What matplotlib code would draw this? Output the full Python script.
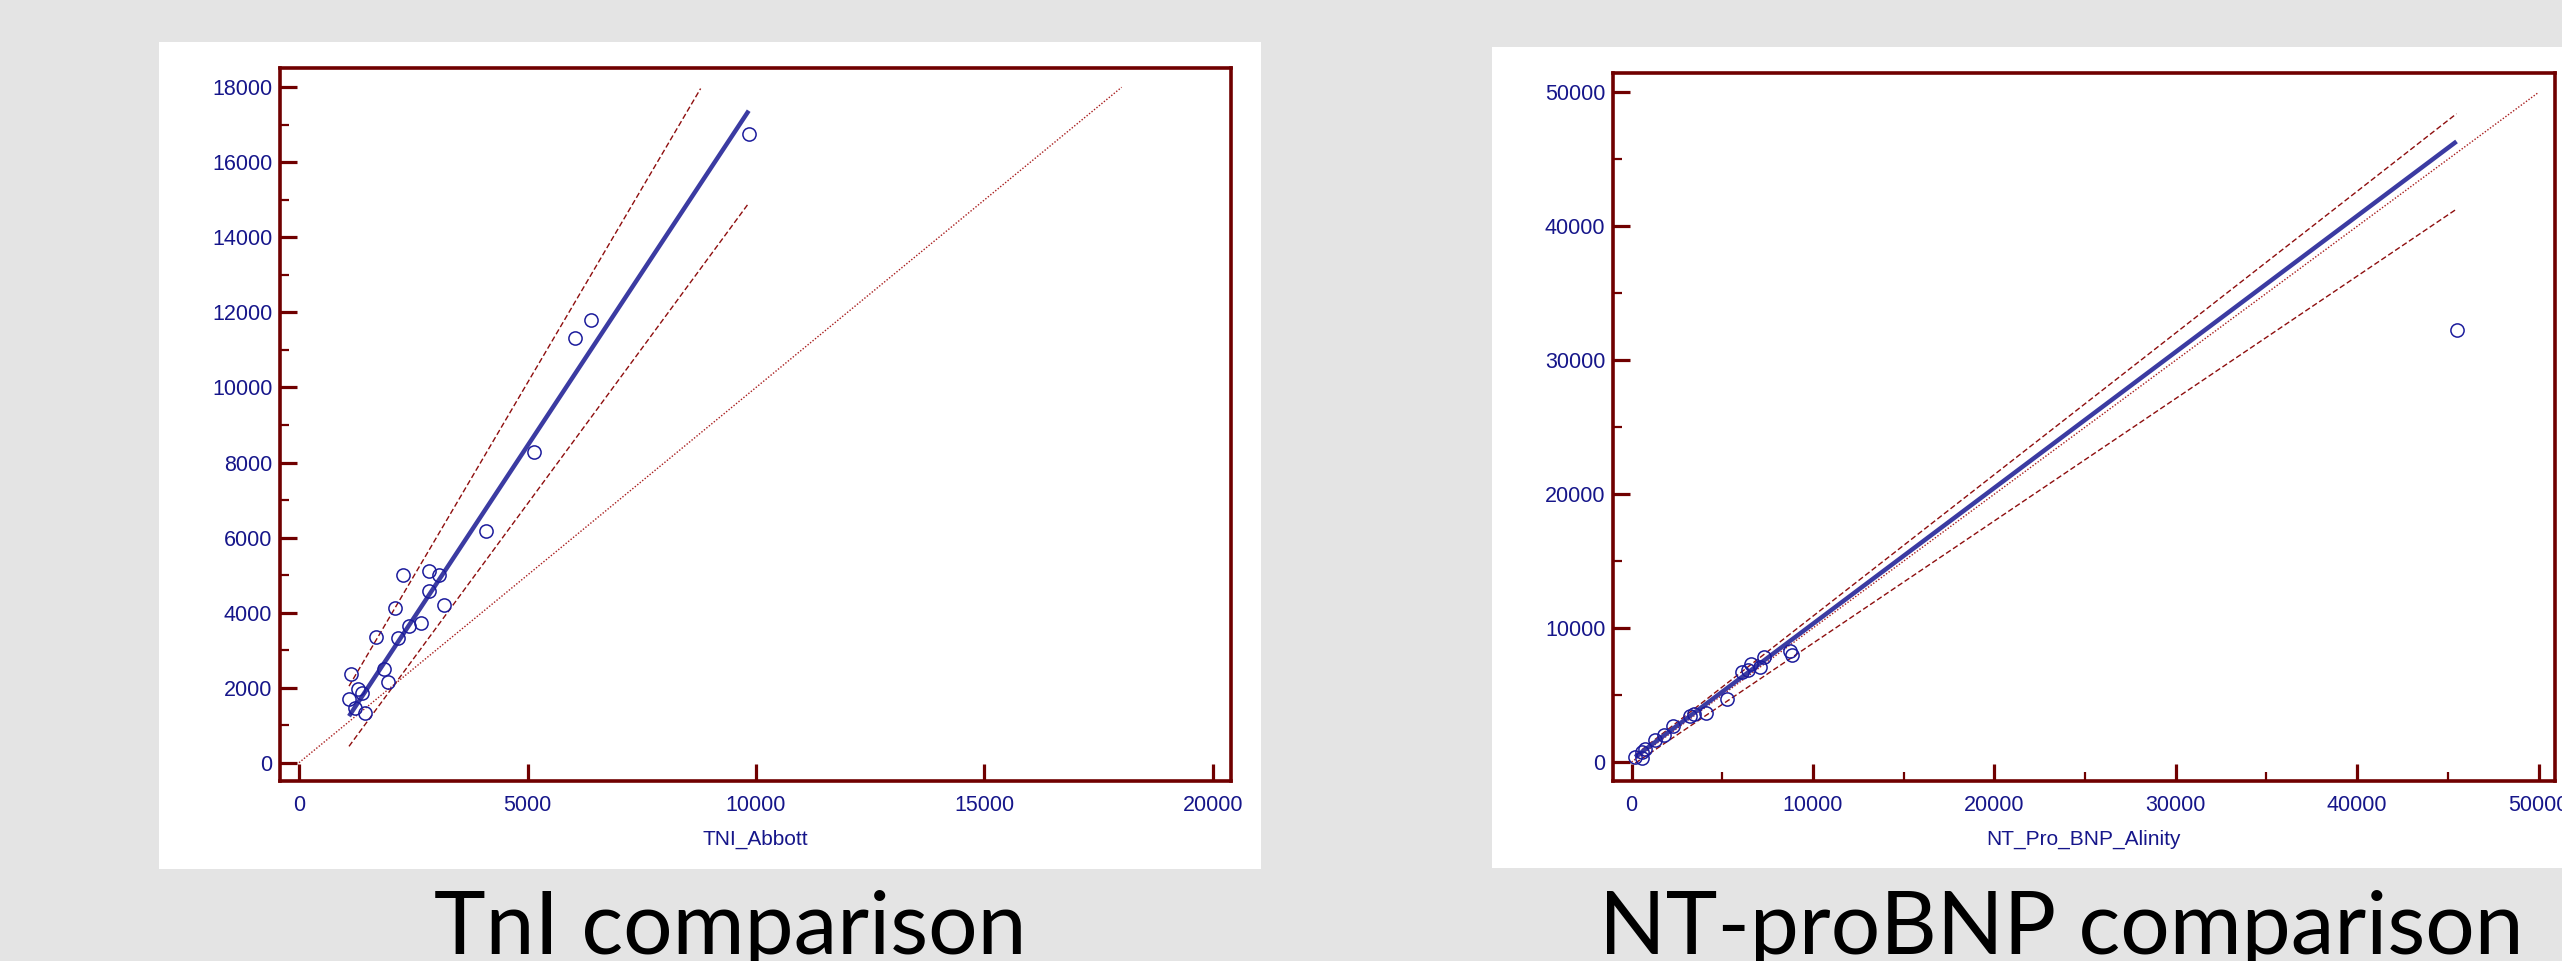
import matplotlib
matplotlib.use("Agg")
import matplotlib.pyplot as plt
from matplotlib.patches import Rectangle
from matplotlib.ticker import MultipleLocator
import numpy as np

# TnI panel: method comparison points (x = TNI_Abbott)
tni_x = [9840, 6380, 6040, 5150, 4085, 2276, 2852, 3070, 2852, 3180, 2094, 2662,
         2400, 1678, 2160, 1866, 1131, 1947, 1284, 1378, 1094, 1220, 1437]
tni_y = [16750, 11790, 11310, 8270, 6175, 4994, 5117, 5002, 4576, 4195, 4131, 3715,
         3643, 3358, 3331, 2497, 2364, 2151, 1964, 1866, 1698, 1470, 1324]
# (intercept, slope) of regression line and its confidence lines
tni_fit = (-779, 1.845)
tni_hi = (-225, 2.07)
tni_lo = (-1375, 1.655)
tni_ident = 18000

# NT-proBNP panel (x = NT_Pro_BNP_Alinity)
bnp_x = [200, 570, 570, 755, 1270, 1760, 2260, 3230, 3420, 4100, 5260, 6060,
         6410, 6600, 7090, 7310, 8710, 8840, 45480]
bnp_y = [370, 330, 750, 1000, 1670, 2000, 2670, 3440, 3620, 3660, 4740, 6730,
         6850, 7350, 7100, 7850, 8270, 7980, 32270]
bnp_fit = (167, 1.0152)
bnp_hi = (315, 1.0575)
bnp_lo = (-269, 0.9137)
bnp_ident = 50000

W, H = 2562, 961
BG = "#e4e4e4"
SPINE = "#700000"
NAVY = "#16168a"
LINE = "#3b3ba2"

fig = plt.figure(figsize=(W / 100, H / 100), dpi=100, facecolor=BG)


def frac(l, t, r, b):
    return [l / W, 1 - b / H, (r - l) / W, (b - t) / H]


def panel(box, axbox, x, y, fit, hi, lo, ident, xlim, ylim, xmaj, xmin, ymaj, ymin, xlabel, title, tx):
    l, t, r, b = box
    fig.add_artist(Rectangle((l / W, 1 - b / H), (r - l) / W, (b - t) / H,
                             transform=fig.transFigure, facecolor="white",
                             edgecolor="none", zorder=-1))
    ax = fig.add_axes(frac(*axbox))
    x = np.array(x, float)
    y = np.array(y, float)
    xs = np.linspace(x.min(), x.max(), 400)

    # line of identity, confidence lines, regression line, data
    ax.plot([0, ident], [0, ident], color="#a81c1c", lw=1.0, ls=(0, (1, 1.3)))
    for a, s in (hi, lo):
        ys = a + s * xs
        keep = ys <= ident
        ax.plot(xs[keep], ys[keep], color="#8e0e0e", lw=1.0, ls=(0, (4, 2)))
    ax.plot(xs, fit[0] + fit[1] * xs, color=LINE, lw=3.2, solid_capstyle="butt")
    ax.plot(x, y, "o", ms=9.5, mfc="none", mec="#1c1c9c", mew=1.1)

    ax.set_xlim(*xlim)
    ax.set_ylim(*ylim)
    ax.xaxis.set_major_locator(MultipleLocator(xmaj))
    ax.yaxis.set_major_locator(MultipleLocator(ymaj))
    if xmin:
        ax.xaxis.set_minor_locator(MultipleLocator(xmin))
    ax.yaxis.set_minor_locator(MultipleLocator(ymin))
    for s in ax.spines.values():
        s.set_color(SPINE)
        s.set_linewidth(2.6)
    ax.tick_params(which="major", direction="in", length=12, width=2.3, color=SPINE,
                   labelcolor=NAVY, labelsize=15.5, labelfontfamily="Liberation Sans")
    ax.tick_params(which="minor", direction="in", length=6.5, width=1.6, color=SPINE)
    ax.tick_params(axis="x", pad=10)
    ax.tick_params(axis="y", pad=5.5)
    ax.set_xlabel(xlabel, color=NAVY, fontsize=15, family="Liberation Sans", labelpad=10)

    fig.text(tx / W, 1 - 954 / H, title, ha="center", va="baseline",
             fontsize=63, family="Lato", color="black")
    return ax


panel((159, 42, 1261, 869), (280, 68, 1231, 781), tni_x, tni_y, tni_fit, tni_hi, tni_lo,
      tni_ident, (-416, 20394), (-488, 18514), 5000, None, 2000, 1000,
      "TNI_Abbott", "TnI comparison", 730)
panel((1492, 47, 2562, 868), (1613, 73, 2555, 781), bnp_x, bnp_y, bnp_fit, bnp_hi, bnp_lo,
      bnp_ident, (-1025, 50909), (-1420, 51450), 10000, 5000, 10000, 5000,
      "NT_Pro_BNP_Alinity", "NT-proBNP comparison", 2061)

fig.savefig("out.png", dpi=100, facecolor=BG)
